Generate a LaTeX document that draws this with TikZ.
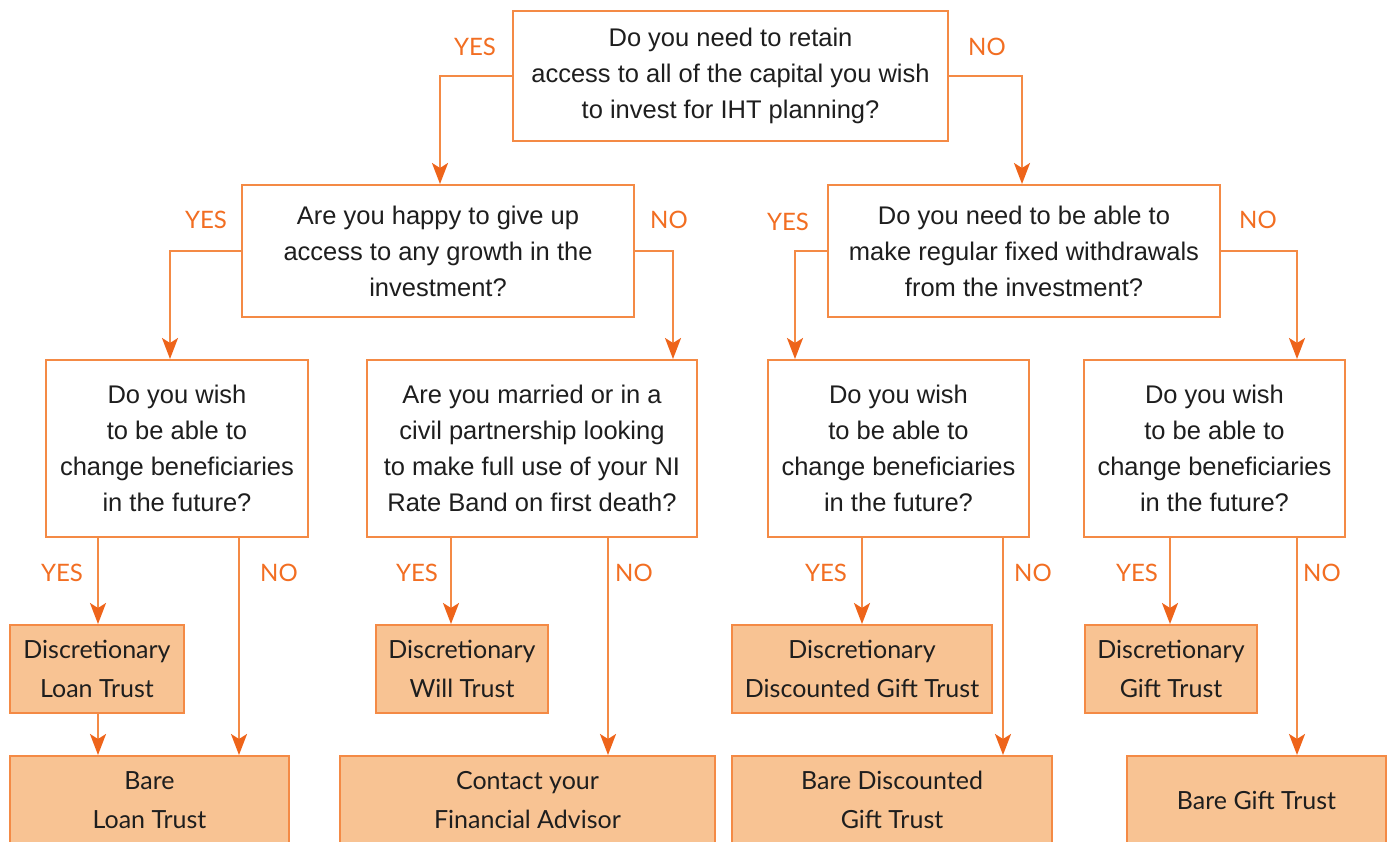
\documentclass[tikz,border=0pt]{standalone}
\usepackage{fontspec}
\setmainfont{Liberation Sans}
\newfontfamily\labfont{Lato}
\usetikzlibrary{arrows.meta}
\definecolor{ora}{HTML}{F48A45}
\definecolor{oradark}{HTML}{EE641A}
\definecolor{oralab}{HTML}{F26E22}
\definecolor{orafill}{HTML}{F8C393}
\definecolor{txt}{HTML}{1E1E1E}
\tikzset{
  qbox/.style={draw=ora, line width=2pt, fill=white, align=center, text=txt,
    font=\fontsize{25.5}{36}\selectfont, inner sep=0pt},
  rbox/.style={draw=ora, line width=2pt, fill=orafill, align=center, text=txt,
    font=\labfont\fontsize{25}{39}\selectfont, inner sep=0pt},
  conn/.style={draw=ora, line width=2.2pt, -{Stealth[length=21pt,width=16pt,inset=5pt,fill=oradark,color=oradark]}},
  lab/.style={text=oralab, font=\labfont\fontsize{24}{24}\selectfont, inner sep=0pt}
}
\begin{document}
\begin{tikzpicture}[x=1pt,y=-1pt]
\useasboundingbox (0,0) rectangle (1390,841);
\clip (0,0) rectangle (1390,841);
\fill[white] (0,0) rectangle (1390,841);
% question boxes
\node[qbox, minimum width=435pt, minimum height=130pt] (top) at (730.5,76)
  {Do you need to retain\\access to all of the capital you wish\\to invest for IHT planning?};
\node[qbox, minimum width=392pt, minimum height=132pt] (l2) at (438,251)
  {Are you happy to give up\\access to any growth in the\\investment?};
\node[qbox, minimum width=392pt, minimum height=132pt] (r2) at (1024,251)
  {Do you need to be able to\\make regular fixed withdrawals\\from the investment?};
\node[qbox, minimum width=262pt, minimum height=177pt] (b1) at (177,448.5)
  {Do you wish\\to be able to\\change beneficiaries\\in the future?};
\node[qbox, minimum width=330pt, minimum height=177pt] (b2) at (532,448.5)
  {Are you married or in a\\civil partnership looking\\to make full use of your NI\\Rate Band on first death?};
\node[qbox, minimum width=261pt, minimum height=177pt] (b3) at (898.5,448.5)
  {Do you wish\\to be able to\\change beneficiaries\\in the future?};
\node[qbox, minimum width=261pt, minimum height=177pt] (b4) at (1214.5,448.5)
  {Do you wish\\to be able to\\change beneficiaries\\in the future?};
% result boxes
\node[rbox, minimum width=174pt, minimum height=88pt] (d1) at (97,669) {Discretionary\\Loan Trust};
\node[rbox, minimum width=172pt, minimum height=88pt] (d2) at (462,669) {Discretionary\\Will Trust};
\node[rbox, minimum width=260pt, minimum height=88pt] (d3) at (862,669) {Discretionary\\Discounted Gift Trust};
\node[rbox, minimum width=172pt, minimum height=88pt] (d4) at (1171,669) {Discretionary\\Gift Trust};
\node[rbox, minimum width=279pt, minimum height=88pt] (e1) at (149.5,800) {Bare\\Loan Trust};
\node[rbox, minimum width=375pt, minimum height=88pt] (e2) at (527.5,800) {Contact your\\Financial Advisor};
\node[rbox, minimum width=320pt, minimum height=88pt] (e3) at (892,800) {Bare Discounted\\Gift Trust};
\node[rbox, minimum width=259pt, minimum height=88pt] (e4) at (1256.5,800) {Bare Gift Trust};
% connectors
\draw[conn] (top.west) -| (l2.north -| 440,0);
\draw[conn] (top.east) -| (r2.north -| 1022,0);
\draw[conn] (l2.west) -| (b1.north -| 170,0);
\draw[conn] (l2.east) -| (b2.north -| 673,0);
\draw[conn] (r2.west) -| (b3.north -| 795,0);
\draw[conn] (r2.east) -| (b4.north -| 1297,0);
\draw[conn] (b1.south -| 98,0) -- (d1.north -| 98,0);
\draw[conn] (b1.south -| 239,0) -- (e1.north -| 239,0);
\draw[conn] (d1.south -| 98,0) -- (e1.north -| 98,0);
\draw[conn] (b2.south -| 451,0) -- (d2.north -| 451,0);
\draw[conn] (b2.south -| 608,0) -- (e2.north -| 608,0);
\draw[conn] (b3.south -| 862,0) -- (d3.north -| 862,0);
\draw[conn] (b3.south -| 1003,0) -- (e3.north -| 1003,0);
\draw[conn] (b4.south -| 1170,0) -- (d4.north -| 1170,0);
\draw[conn] (b4.south -| 1297,0) -- (e4.north -| 1297,0);
% labels
\node[lab] (y1) at (475,47) {YES};
\node[lab] (n1) at (987,47) {NO};
\node[lab] (y2) at (206,220) {YES};
\node[lab] (n2) at (669,220) {NO};
\node[lab] (y3) at (788,222) {YES};
\node[lab] (n3) at (1258,220) {NO};
\node[lab] (y4) at (62,573) {YES};
\node[lab] (n4) at (279,573) {NO};
\node[lab] (y5) at (417,573) {YES};
\node[lab] (n5) at (634,573) {NO};
\node[lab] (y6) at (826,573) {YES};
\node[lab] (n6) at (1033,573) {NO};
\node[lab] (y7) at (1137,573) {YES};
\node[lab] (n7) at (1322,573) {NO};
\end{tikzpicture}
\end{document}
